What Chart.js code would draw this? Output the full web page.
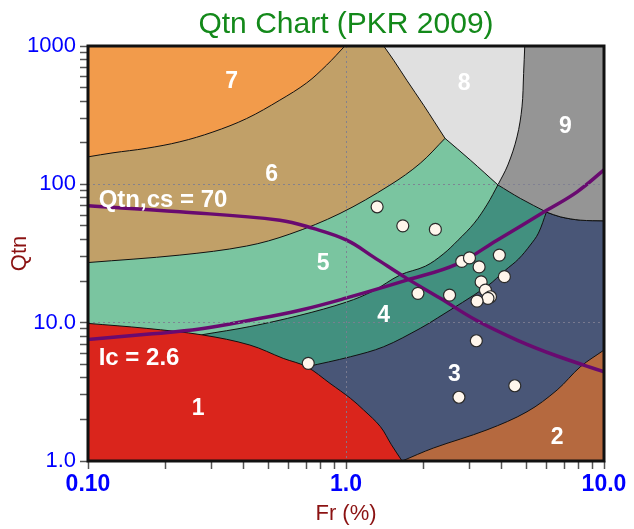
<!DOCTYPE html>
<html>
<head>
<meta charset="utf-8">
<title>Qtn Chart</title>
<script src="https://cdn.jsdelivr.net/npm/chart.js@4.4.0/dist/chart.umd.min.js"></script>
<style>
	html, body { margin: 0; padding: 0; background: #fff; }
</style>
</head>
<body>
<canvas id="myChart" width="634" height="529"></canvas>
<script>
// zone boundaries, as [Fr %, Qtn]
let edge76 = [[0.1, 158], [0.125, 169], [0.168, 182], [0.227, 203], [0.305, 239], [0.412, 299], [0.554, 406], [0.704, 541], [0.841, 727], [0.99, 1000]]
let edge68 = [[1.4, 1000], [1.53, 790], [1.72, 566], [2.0, 373], [2.42, 215]]
let edge85 = [[2.42, 215], [3.03, 150], [3.88, 99]]
let edge98 = [[4.93, 1000], [4.88, 633], [4.81, 363], [4.6, 220], [4.24, 138], [3.88, 99]]
let edge94 = [[3.88, 99], [4.74, 79.1], [5.98, 63]]
let edge93 = [[5.98, 63], [6.78, 58.2], [8.1, 55.1], [10, 54.5]]
let edge65 = [[0.1, 27.2], [0.227, 30.8], [0.412, 35.8], [0.606, 43.7], [0.948, 61.6], [1.48, 98.7], [1.94, 142], [2.42, 215]]
let edge54 = [[0.279, 8.2], [0.424, 9.37], [0.663, 11.3], [1.006, 14.1], [1.27, 16.9], [1.62, 22.1], [2.03, 25.6], [2.38, 31.3], [2.72, 39.5], [3.14, 52.4], [3.53, 71.9], [3.88, 99]]
let edge43 = [[0.704, 4.8], [1.04, 5.67], [1.4, 6.7], [1.94, 9.1], [2.26, 10.8], [3.53, 18.4], [4.15, 24.0], [4.66, 28.8], [5.18, 36.4], [5.57, 44.4], [5.98, 63]]
let edge1 = [[0.1, 9.88], [0.168, 9.1], [0.279, 8.14], [0.424, 6.89], [0.571, 5.52], [0.704, 4.8], [0.867, 3.64], [1.04, 2.84], [1.17, 2.34], [1.36, 1.77], [1.5, 1.31], [1.65, 1]]
let edge32 = [[1.65, 1], [2.18, 1.24], [3.52, 1.68], [5.03, 2.27], [6.58, 3.26], [8.1, 4.8], [10, 6.34]]

// purple reference curves
let icLine = [[0.1, 7.55], [0.173, 8.27], [0.271, 8.99], [0.424, 10.4], [0.663, 12.3], [1.006, 15.1], [1.72, 20.3], [2.69, 26.5], [3.85, 39.5], [6.02, 65.1], [7.87, 88.3], [10, 127]]
let qtncsLine = [[0.1, 69.9], [0.227, 63.3], [0.554, 55.1], [0.746, 48.0], [1.006, 39.5], [1.276, 29.9], [1.72, 20.9], [2.32, 15.0], [3.2, 10.4], [4.6, 7.49], [6.58, 5.74], [10, 4.42]]

// measured points
let pointFr = [1.32, 1.66, 2.22, 0.714, 2.81, 3.01, 3.28, 3.93, 4.11, 3.34, 3.47, 3.63, 3.55, 3.22, 1.9, 2.52, 3.2, 2.74, 4.51]
let pointQtn = [68.8, 50.1, 47.2, 5.08, 27.7, 29.4, 25.3, 30.8, 21.5, 19.7, 17.2, 15.4, 15.0, 14.3, 16.3, 15.8, 7.4, 2.89, 3.5]

// zone numbers and curve names
let zoneNames = ['1', '2', '3', '4', '5', '6', '7', '8', '9']
let zoneNameFr = [0.267, 6.58, 2.63, 1.4, 0.816, 0.515, 0.36, 2.87, 7.09]
let zoneNameQtn = [2.4, 1.48, 4.18, 11.3, 26.5, 117, 550, 536, 263]
let curveNames = ['Qtn,cs = 70', 'Ic = 2.6']
let curveNameFr = [0.11, 0.11]
let curveNameQtn = [76.9, 5.52]

let xTicks = [0.1, 0.2, 0.3, 0.4, 0.5, 0.6, 0.7, 0.8, 0.9, 1, 2, 3, 4, 5, 6, 7, 8, 9, 10]
let yTicks = [1, 2, 3, 4, 5, 6, 7, 8, 9, 10, 20, 30, 40, 50, 60, 70, 80, 90, 100, 200, 300, 400, 500, 600, 700, 800, 900, 1000]
let xLabelAt = [0.1, 1, 10]
let xLabelText = ['0.10', '1.0', '10.0']
let yLabelAt = [1, 10, 100, 1000]
let yLabelText = ['1.0', '10.0', '100', '1000']

let zoneColors = {
	1: '#da251c',
	2: '#b5693f',
	3: '#495677',
	4: '#42907f',
	5: '#7ac5a0',
	6: '#c1a068',
	7: '#f29b4b',
	8: '#e0e0e0',
	9: '#959595',
}

const FONT = '"Liberation Sans", Arial, sans-serif'
Chart.defaults.font.family = FONT

// joins edges into one closed outline; doubling each part's end points
// keeps the corners sharp when the line is drawn with tension
function pts(...parts) {
	let out = []
	parts.forEach((p) => {
		p.forEach(([x, y], i) => {
			out.push({ x: x, y: y })
			if (i == 0 || i == p.length - 1) out.push({ x: x, y: y })
		})
	})
	out.push(out[0])
	return out
}

// painted bottom to top, each layer hides the rough edges of the one below
let layers = [
	{ zone: 3, data: pts([[0.1, 1]], [[10, 1]], [[10, 1000]], [[0.1, 1000]]) },
	{ zone: 2, data: pts(edge32, [[10, 1]]) },
	{ zone: 4, data: pts([[0.1, 1]], edge43, edge93, [[10, 1000]], [[0.1, 1000]]) },
	{ zone: 5, data: pts([[0.1, 3.85]], edge54, [[10, 1000]], [[0.1, 1000]]) },
	{ zone: 6, data: pts(edge65, [[10, 1000]], [[0.1, 1000]]) },
	{ zone: 7, data: pts(edge76, [[0.1, 1000]]) },
	{ zone: 8, data: pts(edge68, edge85, [[10, 140]], [[10, 1000]]) },
	{ zone: 9, data: pts(edge98, edge94, edge93, [[10, 1000]]) },
	{ zone: 1, data: pts(edge1, [[0.1, 1]]) },
]

let datasets = [
	{
		label: 'data',
		data: pointFr.map((f, i) => ({ x: f, y: pointQtn[i] })),
		showLine: false,
		pointRadius: 6,
		pointBackgroundColor: '#fff6ec',
		pointBorderColor: '#2a2a2a',
		pointBorderWidth: 1.2,
	},
	{
		label: 'Qtn,cs = 70',
		data: qtncsLine.map(([x, y]) => ({ x, y })),
		borderColor: '#690a70',
		borderWidth: 3.5,
		pointRadius: 0,
		tension: 0.4,
		fill: false,
	},
	{
		label: 'Ic = 2.6',
		data: icLine.map(([x, y]) => ({ x, y })),
		borderColor: '#690a70',
		borderWidth: 3.5,
		pointRadius: 0,
		tension: 0.4,
		fill: false,
	},
]

layers
	.slice()
	.reverse()
	.forEach((l) => {
		datasets.push({
			label: 'zone ' + l.zone,
			data: l.data,
			backgroundColor: zoneColors[l.zone],
			borderColor: l.zone == 3 ? 'rgba(0,0,0,0)' : '#111',
			borderWidth: 1,
			pointRadius: 0,
			tension: 0.35,
			fill: 'shape',
		})
	})

let frame = {
	id: 'frame',
	afterDraw(chart) {
		let { ctx, chartArea: a } = chart
		ctx.save()
		ctx.strokeStyle = '#111'
		ctx.lineWidth = 3
		ctx.strokeRect(a.left, a.top, a.right - a.left, a.bottom - a.top)
		ctx.restore()
	},
}

let zoneText = {
	id: 'zoneText',
	afterDraw(chart) {
		let { ctx } = chart
		let x = chart.scales.x
		let y = chart.scales.y
		ctx.save()
		ctx.fillStyle = '#fff'
		ctx.textBaseline = 'middle'
		ctx.textAlign = 'center'
		ctx.font = 'bold 23px ' + FONT
		zoneNames.forEach((t, i) => {
			ctx.fillText(t, x.getPixelForValue(zoneNameFr[i]), y.getPixelForValue(zoneNameQtn[i]))
		})
		ctx.textAlign = 'left'
		ctx.font = 'bold 24px ' + FONT
		curveNames.forEach((t, i) => {
			ctx.fillText(t, x.getPixelForValue(curveNameFr[i]), y.getPixelForValue(curveNameQtn[i]))
		})
		ctx.restore()
	},
}

let dotColor = 'rgba(125,125,145,0.9)'

var ctx = document.getElementById('myChart').getContext('2d')
var qtnChart = new Chart(ctx, {
	type: 'line',
	data: { datasets: datasets },
	plugins: [frame, zoneText],
	options: {
		responsive: false,
		animation: false,
		devicePixelRatio: 1,
		layout: { padding: { left: 0, right: 30, top: 0, bottom: 0 } },
		plugins: {
			legend: { display: false },
			tooltip: { enabled: false },
			title: {
				display: true,
				text: 'Qtn Chart (PKR 2009)',
				color: '#13891a',
				fullSize: false,
				font: { size: 30, weight: 'normal' },
				padding: { top: 7, bottom: 3 },
			},
		},
		scales: {
			x: {
				type: 'logarithmic',
				min: 0.1,
				max: 10,
				afterBuildTicks: (s) => {
					s.ticks = xTicks.map((v) => ({ value: v }))
				},
				afterFit: (s) => {
					s.height = 68
				},
				ticks: {
					autoSkip: false,
					maxRotation: 0,
					minRotation: 0,
					padding: 2,
					color: '#0000ff',
					font: { size: 23, weight: 'bold' },
					callback: (v) => {
						let i = xLabelAt.indexOf(v)
						return i < 0 ? '' : xLabelText[i]
					},
				},
				grid: {
					z: 1,
					color: (c) => (c.tick && c.tick.value === 1 ? dotColor : 'rgba(0,0,0,0)'),
					tickColor: '#555',
					tickWidth: 1.5,
					tickLength: 8,
					tickBorderDash: [],
				},
				border: { display: false, dash: [2, 3] },
				title: {
					display: true,
					text: 'Fr (%)',
					color: '#8b1212',
					font: { size: 22 },
					padding: { top: 0, bottom: 2 },
				},
			},
			y: {
				type: 'logarithmic',
				min: 1,
				max: 1000,
				afterBuildTicks: (s) => {
					s.ticks = yTicks.map((v) => ({ value: v }))
				},
				afterFit: (s) => {
					s.width = 88
				},
				ticks: {
					autoSkip: false,
					padding: 4,
					color: '#0000ff',
					font: { size: 22 },
					callback: (v) => {
						let i = yLabelAt.indexOf(v)
						return i < 0 ? '' : yLabelText[i]
					},
				},
				grid: {
					z: 1,
					color: (c) => (c.tick && (c.tick.value === 10 || c.tick.value === 100) ? dotColor : 'rgba(0,0,0,0)'),
					tickColor: '#555',
					tickWidth: 1.5,
					tickLength: 8,
					tickBorderDash: [],
				},
				border: { display: false, dash: [2, 3] },
				title: {
					display: true,
					text: 'Qtn',
					color: '#8b1212',
					font: { size: 22 },
					padding: { top: 7, bottom: 0 },
				},
			},
		},
	},
})
</script>
</body>
</html>
